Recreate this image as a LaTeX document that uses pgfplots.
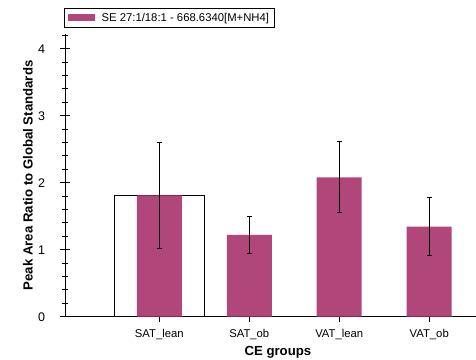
\documentclass[border=0pt]{standalone}
\usepackage{fontspec}
\setmainfont{Liberation Sans}
\usepackage{pgfplots}
\pgfplotsset{compat=1.18}

\definecolor{barpurple}{RGB}{176,70,122}

% group means and standard deviations
\pgfplotstableread{
x  y     err
0  1.81  0.785
1  1.22  0.27
2  2.08  0.53
3  1.345 0.43
}\groupdata

\begin{document}
\begin{tikzpicture}
\path[use as bounding box] (0,0) rectangle (476bp,360bp);
\begin{axis}[
  at={(65bp,43.3bp)}, anchor=south west,
  scale only axis, width=411bp, height=282.7bp,
  xmin=-1.048, xmax=3.52, ymin=0, ymax=4.22,
  axis x line=bottom, axis y line=left,
  axis line style={-, line width=0.9bp, black},
  xtick={0,1,2,3},
  xticklabels={SAT\_lean, SAT\_ob, VAT\_lean, VAT\_ob},
  ytick={0,1,2,3,4},
  minor ytick={0.2,0.4,...,4.21},
  tick align=center,
  major tick length=10bp, minor tick length=6bp,
  tick style={black, line width=0.9bp},
  /pgf/number format/assume math mode=true,
  ticklabel style={font=\fontsize{11.3bp}{13bp}\selectfont},
  yticklabel style={font=\fontsize{12.5bp}{14bp}\selectfont, xshift=-11.5bp},
  xticklabel style={yshift=-4bp},
  label style={font=\fontsize{13.2bp}{15bp}\selectfont\bfseries},
  xlabel={CE groups},
  ylabel={Peak Area Ratio to Global Standards},
  xlabel style={at={(axis description cs:0.518,-0.127)}, anchor=center},
  ylabel style={at={(axis description cs:-0.09,0.5)}, anchor=center},
  legend style={
    at={(axis description cs:-0.002,1.092)}, anchor=north west,
    draw=black, line width=0.9bp, fill=white,
    font=\fontsize{11.3bp}{13bp}\selectfont,
    inner xsep=3bp, inner ysep=2.5bp,
  },
  legend cell align=left,
]
% outlined reference bar behind the first group
\addplot[ybar, bar width=1, bar shift=0pt, fill=white, draw=black, line width=0.9bp, forget plot]
  coordinates {(0,1.81)};
\addplot[ybar, bar width=0.5, bar shift=0pt, fill=barpurple, draw=none,
  legend image code/.code={
    \fill[barpurple] (0bp,-3.5bp) rectangle (27bp,3.5bp);
    \path (0bp,0bp) -- (32bp,0bp);},
  error bars/.cd, y dir=both, y explicit,
  error bar style={black, line width=0.9bp},
  error mark options={rotate=90, mark size=2.5bp, black, line width=0.9bp}]
  table[x=x, y=y, y error=err] {\groupdata};
\addlegendentry{SE 27:1/18:1 - 668.6340[M+NH4]}
\end{axis}
\end{tikzpicture}
\end{document}
